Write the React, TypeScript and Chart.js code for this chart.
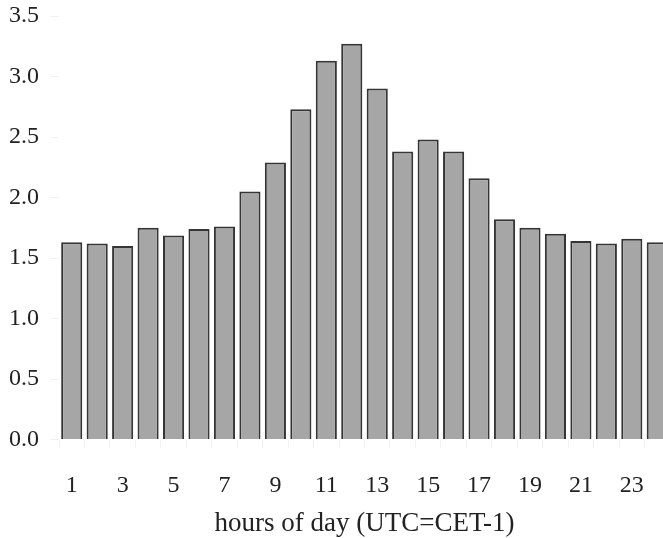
import React, { useEffect, useRef } from "react";
import { Chart, registerables } from "chart.js";

Chart.register(...registerables);

const hours = ["1","2","3","4","5","6","7","8","9","10","11","12","13","14","15","16","17","18","19","20","21","22","23","24"];
const values = [1.63,1.62,1.60,1.75,1.685,1.74,1.76,2.05,2.29,2.73,3.13,3.27,2.90,2.38,2.48,2.38,2.16,1.82,1.75,1.70,1.64,1.62,1.66,1.63];
const xTitle = "hours of day (UTC=CET-1)";
const yMin = 0;
const yMax = 3.5;
const yStep = 0.5;

export default function App() {
  const ref = useRef<HTMLCanvasElement | null>(null);
  useEffect(() => {
    if (!ref.current) return;
    const font = "'Liberation Serif', 'Times New Roman', serif";
    const chart = new Chart(ref.current, {
      type: "bar",
      data: {
        labels: hours,
        datasets: [
          {
            data: values,
            backgroundColor: "#a6a6a6",
            borderColor: "#353535",
            borderWidth: 2,
            categoryPercentage: 1,
            barPercentage: 0.83,
          },
        ],
      },
      options: {
        responsive: false,
        animation: false,
        layout: { padding: { left: 0, top: 16, right: 10, bottom: 0 } },
        plugins: { legend: { display: false }, tooltip: { enabled: false } },
        scales: {
          x: {
            border: { display: false },
            grid: { display: true, drawOnChartArea: false, color: "#f0f0f0", tickLength: 8 },
            ticks: {
              autoSkip: false,
              maxRotation: 0,
              padding: 24,
              color: "#222",
              font: { family: font, size: 24 },
              callback: (v: any, i: number) => (i % 2 === 0 ? hours[i] : ""),
            },
            title: {
              display: true,
              text: xTitle,
              color: "#222",
              font: { family: font, size: 27 },
              padding: { top: 0, bottom: -2 },
            },
            afterFit: (s: any) => {
              s.height = 98.5;
              s.paddingLeft = 0;
              s.paddingRight = 0;
            },
          },
          y: {
            min: yMin,
            max: yMax,
            border: { display: false },
            grid: { display: true, drawOnChartArea: false, color: "#f0f0f0", tickLength: 8 },
            ticks: {
              stepSize: yStep,
              padding: 12,
              color: "#222",
              font: { family: font, size: 24 },
              callback: (v: any) => Number(v).toFixed(1),
            },
            afterFit: (s: any) => {
              s.width = 59;
              s.paddingTop = 0;
              s.paddingBottom = 0;
            },
          },
        },
      },
    });
    return () => chart.destroy();
  }, []);
  return (
    <div style={{ position: "fixed", left: 0, top: 0, width: 663, height: 538, overflow: "hidden", background: "#fff" }}>
      <canvas ref={ref} width={680} height={538} style={{ display: "block" }} />
    </div>
  );
}
